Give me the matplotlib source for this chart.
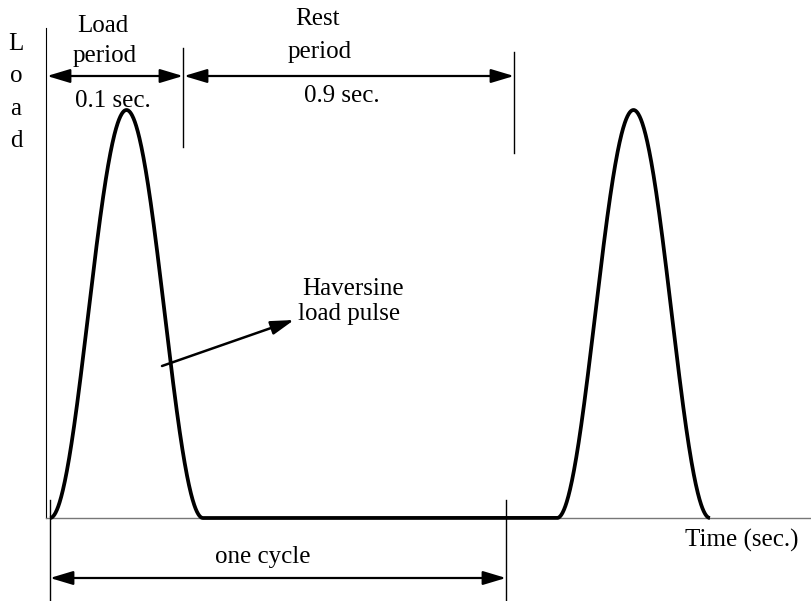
import numpy as np
import matplotlib.pyplot as plt

# diagram units (schematic, not to scale)
pulse_starts = [50, 557]      # start of each haversine pulse
pulse_widths = [153, 153]     # duration of each pulse
pulse_peak = 408              # peak load above baseline
trace_end = 710               # where the thick load trace stops

load_period = [46, 183]       # "Load period" dimension
rest_period = [183, 514]      # "Rest period" dimension
one_cycle = [50, 506]         # "one cycle" dimension

y_label = ['L', 'o', 'a', 'd']

plt.rcParams['font.family'] = ['Liberation Serif', 'DejaVu Serif']

fig = plt.figure(figsize=(8.12, 6.01), dpi=100)
ax = fig.add_axes([0, 0, 1, 1])
ax.set_xlim(0, 812)
ax.set_ylim(601, 0)
ax.axis('off')

base = 518

# axes of the sketch
ax.plot([46, 46], [28, base], color='k', lw=0.8)
ax.plot([46, 812], [base, base], color='#777777', lw=1.0)

# load history: haversine pulses with rest in between
t = np.linspace(pulse_starts[0], trace_end, 2000)
load = np.zeros_like(t)
for s, w in zip(pulse_starts, pulse_widths):
    m = (t >= s) & (t <= s + w)
    load[m] = pulse_peak * np.sin(np.pi * (t[m] - s) / w) ** 2
ax.plot(t, base - load, color='k', lw=2.7, solid_capstyle='butt')

fs = 18
arrow = dict(arrowstyle='<|-|>,head_length=1.4,head_width=0.42', color='k',
             lw=1.6, shrinkA=0, shrinkB=0, mutation_scale=10)

# top dimensions
ax.plot([load_period[1]] * 2, [48, 147], color='k', lw=1.0)
ax.plot([rest_period[1]] * 2, [52, 153], color='k', lw=1.0)
ax.annotate('', xy=(load_period[1], 76), xytext=(load_period[0] + 1, 76), arrowprops=arrow)
ax.annotate('', xy=(rest_period[1], 76), xytext=(rest_period[0] + 1, 76), arrowprops=arrow)

ax.text(103, 32, 'Load', fontsize=fs, ha='center', va='baseline')
ax.text(105, 62, 'period', fontsize=fs, ha='center', va='baseline')
ax.text(113, 107, '0.1 sec.', fontsize=fs, ha='center', va='baseline')
ax.text(317, 25, 'Rest', fontsize=fs, ha='center', va='baseline')
ax.text(320, 58, 'period', fontsize=fs, ha='center', va='baseline')
ax.text(342, 102, '0.9 sec.', fontsize=fs, ha='center', va='baseline')

# vertical "Load" label
for i, ch in enumerate(y_label):
    ax.text(16, 50 + 32.3 * i, ch, fontsize=fs, ha='center', va='baseline')

# pulse callout
ax.annotate('', xy=(294, 320), xytext=(162, 366),
            arrowprops=dict(arrowstyle='-|>,head_length=1.4,head_width=0.42',
                            color='k', lw=1.8, shrinkA=0, shrinkB=0, mutation_scale=10))
ax.text(353, 295, 'Haversine', fontsize=fs, ha='center', va='baseline')
ax.text(349, 320, 'load pulse', fontsize=fs, ha='center', va='baseline')

# bottom dimension
ax.plot([one_cycle[0]] * 2, [500, 601], color='k', lw=1.0)
ax.plot([one_cycle[1]] * 2, [500, 601], color='k', lw=1.0)
ax.annotate('', xy=(one_cycle[1], 578), xytext=(one_cycle[0], 578), arrowprops=arrow)
ax.text(263, 563, 'one cycle', fontsize=fs, ha='center', va='baseline')

ax.text(742, 547, 'Time (sec.)', fontsize=fs, ha='center', va='baseline')

fig.savefig('out.png', dpi=100)
